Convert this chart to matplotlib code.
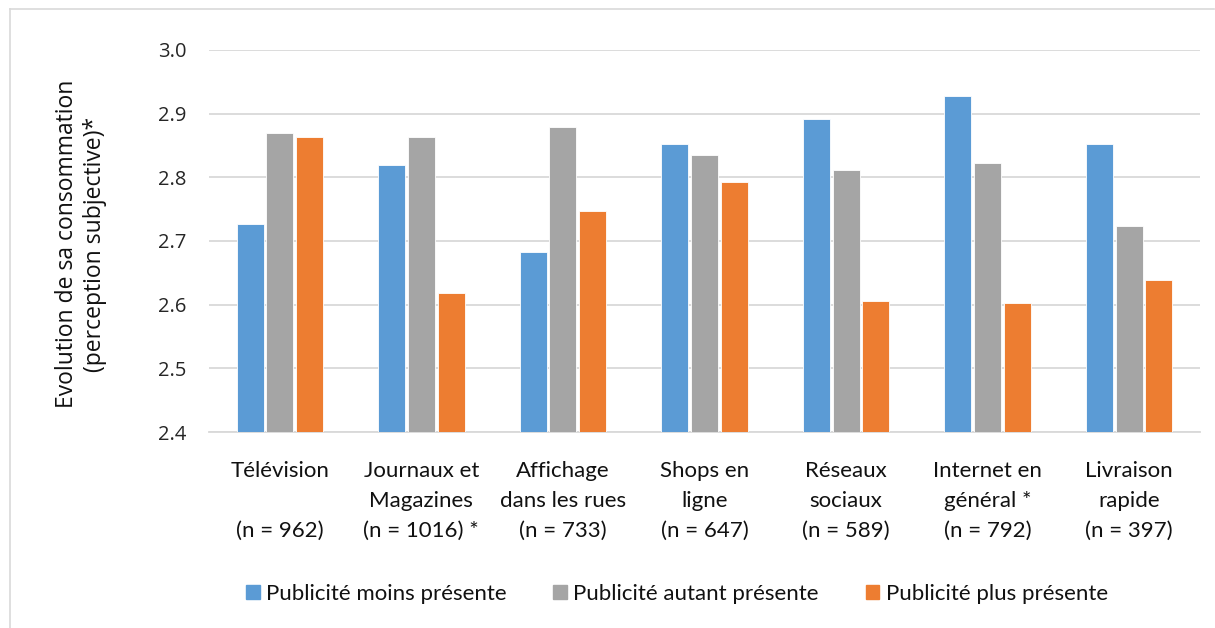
import matplotlib
matplotlib.use("Agg")
import matplotlib.pyplot as plt
import numpy as np
from matplotlib.lines import Line2D

categories = [
    "Télévision\n \n(n = 962)",
    "Journaux et\nMagazines\n(n = 1016) *",
    "Affichage\ndans les rues\n(n = 733)",
    "Shops en\nligne\n(n = 647)",
    "Réseaux\nsociaux\n(n = 589)",
    "Internet en\ngénéral *\n(n = 792)",
    "Livraison\nrapide\n(n = 397)",
]
series_names = ["Publicité moins présente", "Publicité autant présente", "Publicité plus présente"]
moins = [2.727, 2.819, 2.682, 2.852, 2.891, 2.927, 2.852]
autant = [2.869, 2.864, 2.879, 2.835, 2.811, 2.823, 2.723]
plus = [2.863, 2.619, 2.747, 2.792, 2.605, 2.602, 2.638]
yticks = [2.4, 2.5, 2.6, 2.7, 2.8, 2.9, 3.0]
ylabel = "Evolution de sa consommation\n(perception subjective)*"

colors = ["#5B9BD5", "#A5A5A5", "#ED7D31"]
W, H = 1215, 628
fig = plt.figure(figsize=(W / 100, H / 100), dpi=100)
ax = fig.add_axes([209 / W, 1 - 432 / H, (1200 - 209) / W, (432 - 50) / H])

x = np.arange(len(categories))
bw = 0.19
offs = [-0.21, 0.0, 0.21]
for vals, c, o, name in zip([moins, autant, plus], colors, offs, series_names):
    ax.bar(x + o, np.array(vals) - 2.4, bottom=2.4, width=bw, color=c,
           edgecolor="white", linewidth=0.6, label=name, zorder=3)

ax.set_xlim(-0.5, len(categories) - 0.5)
ax.set_ylim(2.4, 3.0)
ax.set_yticks(yticks)
ax.set_yticklabels([f"{v:.1f}" for v in yticks], family="Open Sans", fontsize=14.5, color="#262626")
ax.yaxis.grid(True, color="#d9d9d9", linewidth=1.3, zorder=0)
ax.set_axisbelow(True)
for s in ["top", "right", "left"]:
    ax.spines[s].set_visible(False)
ax.spines["bottom"].set_color("#d9d9d9")
ax.spines["bottom"].set_linewidth(1.3)
ax.tick_params(axis="y", length=0, pad=16)
ax.tick_params(axis="x", length=0, pad=21)
ax.set_xticks(x)
ax.set_xticklabels(categories, family="Lato", fontsize=16, color="#111111", linespacing=1.62, va="top")

fig.text(81 / W, 1 - 244 / H, ylabel, rotation=90, ha="center", va="center",
         multialignment="center", family="Open Sans", fontsize=16.5, color="#111111", linespacing=1.2)

handles = [plt.Rectangle((0, 0), 1, 1, color=c) for c in colors]
fig.legend(handles, series_names, loc="center", bbox_to_anchor=(677 / W, 1 - 594 / H), ncol=3,
           frameon=False, prop={"family": "Lato", "size": 16}, handlelength=0.6, handleheight=0.6,
           handletextpad=0.3, columnspacing=2.1, labelcolor="#111111")

# outer chart border (left and top visible)
bc = "#d9d9d9"
fig.add_artist(Line2D([10 / W, 10 / W], [0, 1 - 9 / H], color=bc, lw=1.2, transform=fig.transFigure))
fig.add_artist(Line2D([10 / W, 1 - 1 / W], [1 - 9 / H, 1 - 9 / H], color=bc, lw=1.2, transform=fig.transFigure))

fig.savefig("out.png", dpi=100)
